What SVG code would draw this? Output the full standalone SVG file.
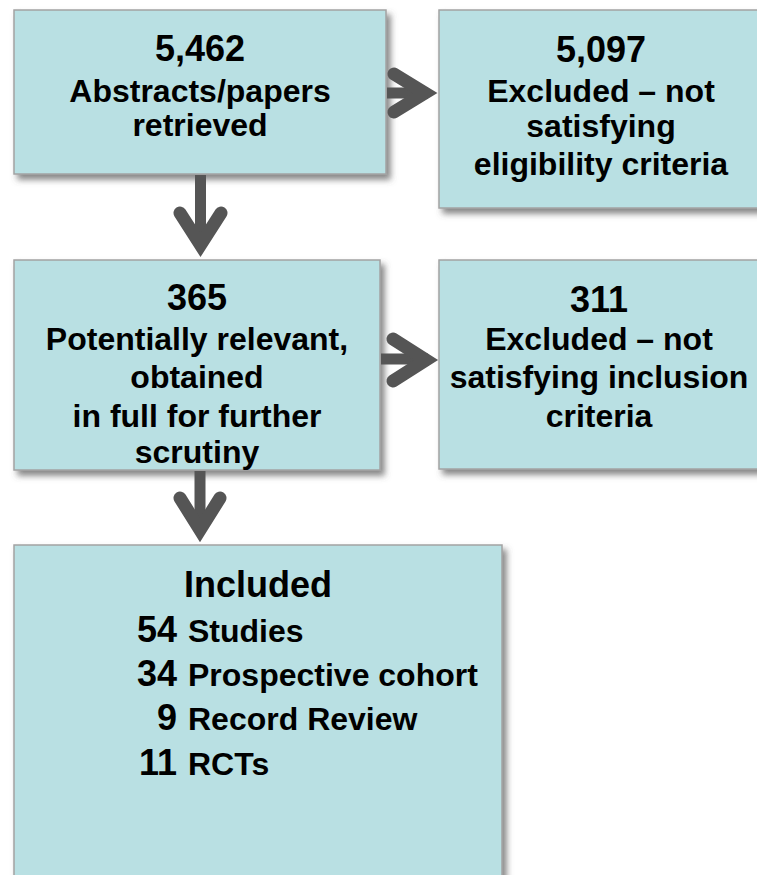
<svg xmlns="http://www.w3.org/2000/svg" width="757" height="875" viewBox="0 0 757 875">
<defs>
<filter id="sh" x="-10%" y="-10%" width="125%" height="130%">
<feDropShadow dx="4" dy="5" stdDeviation="3" flood-color="#555" flood-opacity="0.7"/>
</filter>
<style>
.box{fill:#b9e0e3;stroke:#a3a3a3;stroke-width:1.5;filter:url(#sh)}
text{font-family:"Liberation Sans",Arial,sans-serif;font-weight:bold;fill:#000}
.n{font-size:36px;text-anchor:middle}
.t{font-size:32px;text-anchor:middle}
.ne{font-size:36px;text-anchor:end}
.ts{font-size:32px}
.shaft{stroke:#555;stroke-width:11;fill:none}
.chev{stroke:#555;stroke-width:13;fill:none;stroke-linecap:round;stroke-linejoin:miter}
</style>
</defs>
<rect width="757" height="875" fill="#fff"/>
<g id="n1">
<rect class="box" x="14" y="10" width="372" height="164"/>
<text class="n" x="200" y="61">5,462</text>
<text class="t" x="200" y="102">Abstracts/papers</text>
<text class="t" x="200" y="136">retrieved</text>
</g>
<g id="n2">
<rect class="box" x="439" y="10" width="324" height="198"/>
<text class="n" x="601" y="62">5,097</text>
<text class="t" x="601" y="102">Excluded – not</text>
<text class="t" x="601" y="137">satisfying</text>
<text class="t" x="601" y="175">eligibility criteria</text>
</g>
<g id="n3">
<rect class="box" x="14" y="260" width="366" height="210"/>
<text class="n" x="197" y="310">365</text>
<text class="t" x="197" y="350">Potentially relevant,</text>
<text class="t" x="197" y="388">obtained</text>
<text class="t" x="197" y="427">in full for further</text>
<text class="t" x="197" y="463">scrutiny</text>
</g>
<g id="n4">
<rect class="box" x="439" y="260" width="324" height="209"/>
<text class="n" x="599" y="312">311</text>
<text class="t" x="599" y="350">Excluded – not</text>
<text class="t" x="599" y="388">satisfying inclusion</text>
<text class="t" x="599" y="427">criteria</text>
</g>
<g id="n5">
<rect class="box" x="14" y="545" width="488" height="345"/>
<text class="n" x="258" y="597">Included</text>
<text class="ne" x="177" y="642">54</text>
<text class="ts" x="188" y="642">Studies</text>
<text class="ne" x="177" y="686">34</text>
<text class="ts" x="188" y="686">Prospective cohort</text>
<text class="ne" x="177" y="730">9</text>
<text class="ts" x="188" y="730">Record Review</text>
<text class="ne" x="177" y="775">11</text>
<text class="ts" x="188" y="775">RCTs</text>
</g>
<g id="connectors">
<line class="shaft" x1="387" y1="93" x2="428" y2="93"/>
<polyline class="chev" points="394,74 425,93 394,112"/>
<line class="shaft" x1="200.5" y1="175" x2="200.5" y2="246"/>
<polyline class="chev" points="180,213 200.5,245 221,213"/>
<line class="shaft" x1="381" y1="359" x2="428" y2="359"/>
<polyline class="chev" points="393,339 426,360 393,381"/>
<line class="shaft" x1="200" y1="471" x2="200" y2="532"/>
<polyline class="chev" points="180,498 200,530 220,498"/>
</g>
</svg>
